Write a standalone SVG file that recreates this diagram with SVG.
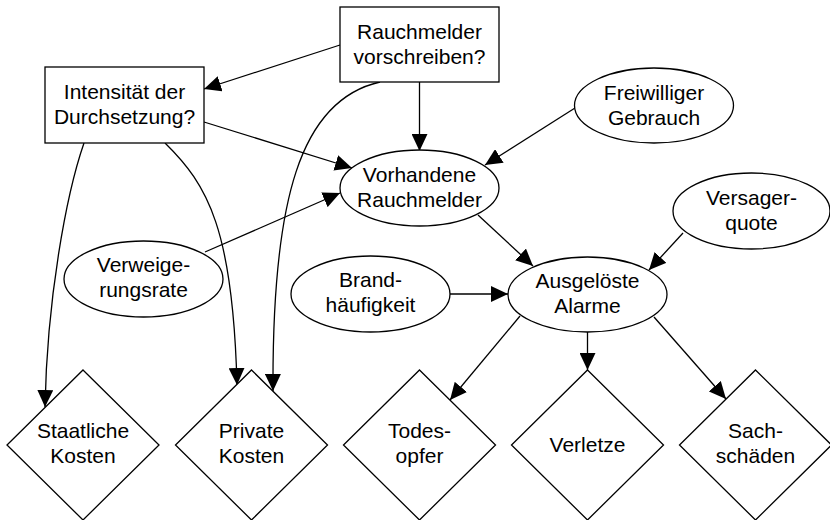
<svg xmlns="http://www.w3.org/2000/svg" width="830" height="520" viewBox="0 0 830 520">
<defs>
<marker id="arr" markerUnits="userSpaceOnUse" markerWidth="17" markerHeight="16" refX="17" refY="8" orient="auto">
<path d="M0,0 L17,8 L0,16 z" fill="#000"/>
</marker>
<style>
.n{fill:#fff;stroke:#000;stroke-width:1.3}
.c{fill:none;stroke:#000;stroke-width:1.3;marker-end:url(#arr)}
text{font-family:"Liberation Sans",Arial,sans-serif;font-size:21px;fill:#000;text-anchor:middle}
</style>
</defs>
<rect width="830" height="520" fill="#fff"/>
<g id="connectors">
<path class="c" d="M340,45 L204,89"/>
<path class="c" d="M419.5,82 L419.5,151"/>
<path class="c" d="M380,82 C300,100 272,200 273,391"/>
<path class="c" d="M204,122 L352,168"/>
<path class="c" d="M84,143 C66,195 47,300 45,407"/>
<path class="c" d="M165,143 C208,185 233,230 237,385"/>
<path class="c" d="M205,252 L340,193"/>
<path class="c" d="M575,108 L485,165"/>
<path class="c" d="M478,215 L533,266"/>
<path class="c" d="M683,233 L649,270"/>
<path class="c" d="M450,294 L508,294"/>
<path class="c" d="M520,316 L450,400"/>
<path class="c" d="M587.5,332 L587.5,370"/>
<path class="c" d="M654,317 L726,399"/>
</g>
<g id="rauchmelder-vorschreiben">
<rect class="n" x="340" y="7" width="159" height="75"/>
<text x="419.5" y="39">Rauchmelder</text>
<text x="419.5" y="64">vorschreiben?</text>
</g>
<g id="intensitaet">
<rect class="n" x="45" y="67" width="159" height="76"/>
<text x="124.5" y="99">Intensität der</text>
<text x="124.5" y="124">Durchsetzung?</text>
</g>
<g id="freiwilliger-gebrauch">
<ellipse class="n" cx="654" cy="105.5" rx="79.5" ry="37.5"/>
<text x="654" y="100">Freiwilliger</text>
<text x="654" y="125">Gebrauch</text>
</g>
<g id="vorhandene-rauchmelder">
<ellipse class="n" cx="419.5" cy="188" rx="79.5" ry="38"/>
<text x="419.5" y="182">Vorhandene</text>
<text x="419.5" y="207">Rauchmelder</text>
</g>
<g id="versagerquote">
<ellipse class="n" cx="751.5" cy="211" rx="78.5" ry="38"/>
<text x="751.5" y="205">Versager-</text>
<text x="751.5" y="230">quote</text>
</g>
<g id="verweigerungsrate">
<ellipse class="n" cx="143.5" cy="279" rx="79.5" ry="38"/>
<text x="143.5" y="272">Verweige-</text>
<text x="143.5" y="297">rungsrate</text>
</g>
<g id="brandhaeufigkeit">
<ellipse class="n" cx="370.5" cy="294" rx="79.5" ry="38"/>
<text x="370.5" y="287">Brand-</text>
<text x="370.5" y="312">häufigkeit</text>
</g>
<g id="ausgeloeste-alarme">
<ellipse class="n" cx="587.5" cy="294.5" rx="79.5" ry="37.5"/>
<text x="587.5" y="288">Ausgelöste</text>
<text x="587.5" y="313">Alarme</text>
</g>
<g id="staatliche-kosten">
<polygon class="n" points="83,370 159,445 83,520 7,445"/>
<text x="83" y="438">Staatliche</text>
<text x="83" y="463">Kosten</text>
</g>
<g id="private-kosten">
<polygon class="n" points="251.5,370 327.5,445 251.5,520 175.5,445"/>
<text x="251.5" y="438">Private</text>
<text x="251.5" y="463">Kosten</text>
</g>
<g id="todesopfer">
<polygon class="n" points="419.5,370 495.5,445 419.5,520 343.5,445"/>
<text x="419.5" y="438">Todes-</text>
<text x="419.5" y="463">opfer</text>
</g>
<g id="verletze">
<polygon class="n" points="587.5,370 663.5,445 587.5,520 511.5,445"/>
<text x="587.5" y="452">Verletze</text>
</g>
<g id="sachschaeden">
<polygon class="n" points="755.5,370 831.5,445 755.5,520 679.5,445"/>
<text x="755.5" y="438">Sach-</text>
<text x="755.5" y="463">schäden</text>
</g>
</svg>
